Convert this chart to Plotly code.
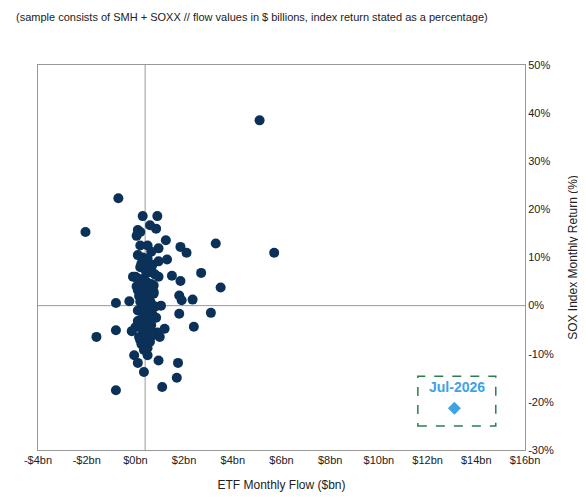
import plotly.graph_objects as go

flow_bn = [-1.1, -2.45, -0.1, 0.5, 0.2, 0.45, -0.3, -0.2, 0.85, -0.35, 1.45, 1.7, 2.9, -0.2, 0.1, 0.55, 0.25,
           0.9, 0.55, 2.3, 1.1, 1.45, 3.1, -0.5, 0.55, 1.4, 1.5, 1.95, -1.2, -0.65, 0.65, 1.4, 2.7, 2.0,
           -1.2, -2.0, -0.55, 0.8, 0.6, 0.5, -0.45, 0.1, -0.3, 0.55, 1.35, -0.05, 1.3, 0.7, -1.2,
           4.7, 5.3,
           -0.3, -0.1, 0.1, 0.3, -0.2, 0.0, 0.2, 0.4, -0.4, -0.15, 0.05, 0.25, -0.35, -0.05, 0.15, 0.35,
           -0.25, 0.0, 0.2, -0.1, 0.1, 0.3, -0.3, -0.05, 0.15, 0.45, -0.2, 0.05, 0.25, -0.4, -0.1, 0.1,
           0.3, -0.25, 0.0, 0.2, -0.15, 0.05, 0.35, -0.3, -0.05, 0.15, -0.2, 0.1, 0.3, -0.1, 0.0, 0.2,
           -0.35, 0.05, 0.25, -0.15, 0.1, -0.25, 0.0, 0.15, 0.4, -0.1, 0.2, -0.3, 0.05, 0.3, -0.2, 0.1,
           -0.05, 0.25, -0.15, 0.15, 0.0, 0.35]
return_pct = [22.3, 15.3, 18.6, 18.6, 16.7, 16.0, 15.7, 15.3, 13.6, 14.5, 12.2, 11.0, 12.9, 12.5, 12.5, 11.9, 11.2,
              9.6, 9.2, 6.8, 6.2, 5.1, 3.75, 6.0, 6.0, 2.1, 1.1, 1.25, 0.55, 0.9, 0.0, -1.7, -1.5, -4.4,
              -5.1, -6.5, -5.3, -4.8, -6.5, -5.6, -10.3, -10.3, -11.9, -11.4, -11.9, -13.8, -15.0, -16.9, -17.6,
              38.5, 11.0,
              10.5, 10.0, 9.0, 8.5, 8.0, 7.5, 7.0, 6.5, 6.0, 5.5, 5.0, 4.5, 4.0, 3.5, 3.0, 2.5,
              2.0, 1.5, 1.0, 0.5, 0.0, -0.5, -1.0, -1.5, -2.0, -2.5, -3.0, -3.5, -4.0, -4.5, -5.0, -5.5,
              -6.0, -6.5, -7.0, -7.5, -8.0, -8.5, 4.2, 3.2, 2.6, 1.8, 0.8, -0.8, -1.8, -2.8, -3.8, -4.8,
              5.8, 6.8, 7.8, 8.8, 9.8, 3.8, 2.2, 1.2, -0.2, -1.2, -2.2, -3.2, -4.2, -6.2, -7.2, -8.8,
              -9.2, 0.4, 1.6, -0.6, -2.6, 2.9]

latest_label = ["Jul-2026"]
latest_flow_bn = [13.1]
latest_return_pct = [-21.3]

x_ticks = list(range(-4, 17, 2))
x_labels = [("-$%dbn" % -v) if v < 0 else ("$%dbn" % v) for v in x_ticks]
y_ticks = list(range(-30, 51, 10))
y_labels = ["%d%%" % v for v in y_ticks]

x_cross = 0.4  # position of the vertical reference line (zero crossing as drawn)

fig = go.Figure()
fig.add_trace(go.Scatter(x=[v + x_cross for v in flow_bn], y=return_pct, mode="markers",
                         marker=dict(color="#0b3158", size=10), showlegend=False))
fig.add_trace(go.Scatter(x=latest_flow_bn, y=latest_return_pct, mode="markers",
                         marker=dict(color="#3fa2e3", size=10, symbol="diamond"), showlegend=False))

fig.add_shape(type="line", x0=x_cross, x1=x_cross, y0=-30, y1=50, line=dict(color="#999", width=1), layer="below")
fig.add_shape(type="line", x0=-4, x1=16, y0=0, y1=0, line=dict(color="#999", width=1), layer="below")
fig.add_shape(type="rect", x0=11.6, x1=14.8, y0=-25, y1=-14.7,
              line=dict(color="#2e7d4f", width=1.5, dash="dash"))
fig.add_annotation(x=13.2, y=-17, text="<b>" + latest_label[0] + "</b>", showarrow=False,
                   font=dict(color="#3fa2e3", size=14, family="Arial"))

fig.update_layout(
    width=586, height=497, margin=dict(l=30, r=69, t=57, b=55),
    plot_bgcolor="white", paper_bgcolor="white",
    font=dict(family="Arial", size=11, color="#222"),
    xaxis=dict(range=[-4, 16], tickvals=x_ticks, ticktext=x_labels, showgrid=False, zeroline=False,
               showline=True, linecolor="#999", mirror=True, ticks="",
               title=dict(text="ETF Monthly Flow ($bn)", font=dict(size=12))),
    yaxis=dict(range=[-30, 50], tickvals=y_ticks, ticktext=y_labels, side="right", showgrid=False,
               zeroline=False, showline=True, linecolor="#999", mirror=True, ticks="",
               title=dict(text="SOX Index Monthly Return (%)", font=dict(size=12))),
)
fig.add_annotation(xref="paper", yref="paper", x=-0.05, y=1.155, xanchor="left", yanchor="bottom",
                   text="<b>Semiconductor ETF Monthly Flows vs. Index Performance</b>", showarrow=False,
                   font=dict(size=14, color="#111"))
fig.add_annotation(xref="paper", yref="paper", x=-0.05, y=1.105, xanchor="left", yanchor="bottom",
                   text="(sample consists of SMH + SOXX // flow values in $ billions, index return stated as a percentage)",
                   showarrow=False, font=dict(size=11, color="#222"))
fig.write_html("out.html")
